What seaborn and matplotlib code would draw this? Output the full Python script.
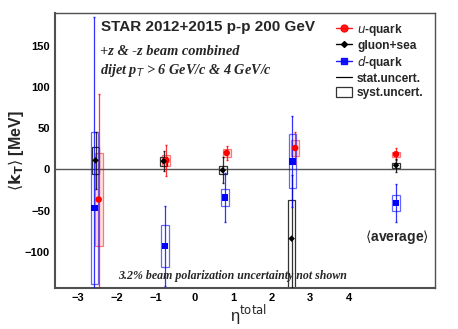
import numpy as np
import pandas as pd
import seaborn as sns
import matplotlib.pyplot as plt
from matplotlib.patches import Rectangle, Patch
from matplotlib.lines import Line2D
from matplotlib.ticker import FixedLocator, MultipleLocator

# u-quark
eta_u = [-2.47, -0.72, 0.84, 2.61, 5.22]
kt_u = [-36.5, 11, 20, 26, 18.5]
stat_u = [127.5, 19, 9, 19.5, 7]
syst_u_lo = [-92.5, 4.5, 15.5, 16, 15.5]
syst_u_hi = [19.5, 17.5, 24.5, 36, 21.5]

# gluon+sea
eta_g = [-2.55, -0.79, 0.74, 2.52, 5.22]
kt_g = [11, 10, -1, -84, 5]
stat_g = [35, 12, 15.5, 77, 8]
syst_g_lo = [-5, 4.5, -6, -150, 2]
syst_g_hi = [27, 15.5, 4.5, -37, 8]

# d-quark
eta_d = [-2.58, -0.75, 0.80, 2.54, 5.22]
kt_d = [-46.5, -93, -34, 9.5, -40.5]
stat_d = [231, 48, 30, 55, 23]
syst_d_lo = [-139, -118, -45, -23, -50]
syst_d_hi = [45, -68, -24, 42.5, -31]

x_ticks = [-3, -2, -1, 0, 1, 2, 3, 4]

sns.set_theme(style="white")
plt.rcParams['font.family'] = ['Liberation Sans', 'DejaVu Sans']
plt.rcParams['mathtext.fontset'] = 'dejavusans'

fig = plt.figure(figsize=(4.58, 3.29), dpi=100)
ax = fig.add_axes([0.120, 0.1246, 0.830, 0.836])

half_w = 0.1
groups = [
    (eta_u, kt_u, stat_u, syst_u_lo, syst_u_hi, 'red', (1, 0, 0, 0.12), (1, 0, 0, 0.5)),
    (eta_g, kt_g, stat_g, syst_g_lo, syst_g_hi, 'black', 'none', '#333333'),
    (eta_d, kt_d, stat_d, syst_d_lo, syst_d_hi, 'blue', 'none', (0, 0, 1, 0.6)),
]
for eta, kt, st, lo, hi, col, fc, ec in groups:
    for x, l, h in zip(eta, lo, hi):
        ax.add_patch(Rectangle((x - half_w, l), 2 * half_w, h - l,
                               facecolor=fc, edgecolor=ec, lw=0.9, zorder=2))
    ax.errorbar(eta, kt, yerr=st, fmt='none', ecolor=col, elinewidth=0.9,
                capsize=1, alpha=0.8, zorder=3)

df_u = pd.DataFrame({'eta': eta_u, 'kt': kt_u})
df_g = pd.DataFrame({'eta': eta_g, 'kt': kt_g})
df_d = pd.DataFrame({'eta': eta_d, 'kt': kt_d})
sns.scatterplot(data=df_u, x='eta', y='kt', color='red', marker='o', s=22,
                edgecolor='none', ax=ax, zorder=4)
sns.scatterplot(data=df_g, x='eta', y='kt', color='black', marker='D', s=11,
                edgecolor='none', ax=ax, zorder=4)
sns.scatterplot(data=df_d, x='eta', y='kt', color='blue', marker='s', s=20,
                edgecolor='none', ax=ax, zorder=4)

ax.axhline(0, color='#555555', lw=1.0, zorder=1)

ax.set_xlim(-3.6, 6.23)
ax.set_ylim(-144, 190)
ax.xaxis.set_major_locator(FixedLocator(x_ticks))
ax.xaxis.set_minor_locator(FixedLocator(np.arange(-3.4, 4.5, 0.2)))
ax.yaxis.set_major_locator(MultipleLocator(50))
ax.yaxis.set_minor_locator(MultipleLocator(10))
ax.tick_params(axis='both', which='both', direction='in', top=False, right=False,
               colors='#444444', labelcolor='black', labelsize=8)
ax.tick_params(axis='y', which='major', length=8, width=1)
ax.tick_params(axis='y', which='minor', length=4, width=0.8)
ax.tick_params(axis='x', which='major', length=5, width=1)
ax.tick_params(axis='x', which='minor', length=2.7, width=0.8)
for lab in ax.get_xticklabels() + ax.get_yticklabels():
    lab.set_fontweight('bold')
for side in ['left', 'bottom']:
    ax.spines[side].set_linewidth(1.5)
    ax.spines[side].set_color('#505050')
for side in ['top', 'right']:
    ax.spines[side].set_linewidth(1.0)
    ax.spines[side].set_color('#505050')

ax.set_xlabel(r'η$^{\mathrm{total}}$', fontsize=12, labelpad=0)
ax.xaxis.set_label_coords(0.51, -0.055)
ax.set_ylabel(r'$\langle\mathbf{k}_{\mathbf{T}}\rangle$ [MeV]', fontsize=11.5,
              fontweight='bold', labelpad=2)
ax.yaxis.set_label_coords(-0.075, 0.50)

ax.text(0.120, 0.948, 'STAR 2012+2015 p-p 200 GeV', transform=ax.transAxes,
        fontsize=11, fontweight='bold', va='center', ha='left')
ax.text(0.118, 0.859, '+z & -z beam combined', transform=ax.transAxes,
        family='Liberation Serif', style='italic', fontweight='bold',
        fontsize=10.4, va='center', ha='left')
ax.text(0.118, 0.79, r'dijet p$_{T}$ > 6 GeV/c & 4 GeV/c', transform=ax.transAxes,
        family='Liberation Serif', style='italic', fontweight='bold',
        fontsize=10.3, va='center', ha='left')
ax.text(0.167, 0.044, '3.2% beam polarization uncertainty not shown',
        transform=ax.transAxes, family='Liberation Serif', style='italic',
        fontweight='bold', fontsize=8.6, va='center', ha='left')
ax.text(0.899, 0.187, r'$\langle$average$\rangle$', transform=ax.transAxes,
        fontsize=10, fontweight='bold', va='center', ha='center')

handles = [
    Line2D([], [], color='red', marker='o', markersize=5, lw=1, alpha=0.9),
    Line2D([], [], color='black', marker='D', markersize=3, lw=1),
    Line2D([], [], color='blue', marker='s', markersize=4.5, lw=1, alpha=0.9),
    Line2D([], [], color='black', lw=0.9),
    Patch(facecolor='white', edgecolor='#333333', lw=0.9),
]
labels = [r'$\mathit{u}$-quark', 'gluon+sea', r'$\mathit{d}$-quark',
          'stat.uncert.', 'syst.uncert.']
leg = ax.legend(handles, labels, loc='upper left', bbox_to_anchor=(0.738, 0.968),
                frameon=False, fontsize=8.6, handlelength=1.4, handleheight=1.0,
                handletextpad=0.4, labelspacing=0.15, borderpad=0, borderaxespad=0)
for t in leg.get_texts():
    t.set_fontweight('bold')

fig.savefig('out.png', dpi=100)
